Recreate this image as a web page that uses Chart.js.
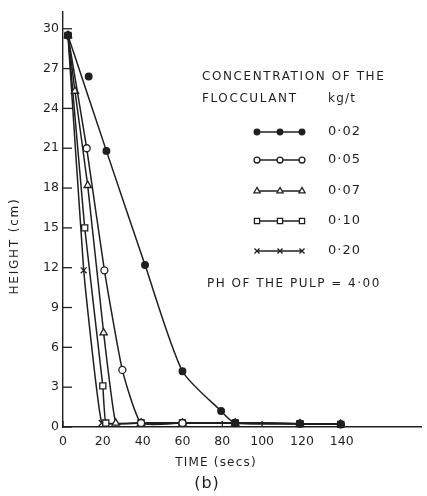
<!DOCTYPE html>
<html>
<head>
<meta charset="utf-8">
<script src="https://cdn.jsdelivr.net/npm/chart.js@4/dist/chart.umd.min.js"></script>
<style>
  html, body { margin: 0; padding: 0; background: #fff; }
  #wrap { width: 427px; height: 496px; position: relative; }
</style>
</head>
<body>
<div id="wrap"><canvas id="chart" width="427" height="496"></canvas></div>
<script>
  // values (time in secs, height in cm)
  const concLabels = ['0·02', '0·05', '0·07', '0·10', '0·20'];
  const xTicks = [0, 20, 40, 60, 80, 100, 120, 140];
  const yTicks = [0, 3, 6, 9, 12, 15, 18, 21, 24, 27, 30];

  const time002 = [2.5, 21.8, 41.2, 60, 79.4, 86.5, 119, 139.5];
  const height002 = [29.5, 20.8, 12.2, 4.2, 1.2, 0.3, 0.25, 0.2];
  // the 10 s reading of 0·02 sits off the drawn curve
  const time002Off = [12.9];
  const height002Off = [26.4];
  const time005 = [2.5, 11.9, 20.8, 29.8, 39.2, 60, 86.5, 119, 139.5];
  const height005 = [29.5, 21.0, 11.8, 4.3, 0.3, 0.3, 0.3, 0.25, 0.2];
  const time007 = [2.5, 6, 12.4, 20.4, 26.5, 39.2, 60, 86.5, 119, 139.5];
  const height007 = [29.5, 25.3, 18.2, 7.1, 0.3, 0.3, 0.3, 0.3, 0.25, 0.2];
  const time010 = [2.5, 10.9, 20.0, 21.5, 39.2, 60, 86.5, 119, 139.5];
  const height010 = [29.5, 15.0, 3.1, 0.3, 0.3, 0.3, 0.3, 0.25, 0.2];
  const time020 = [2.5, 10.4, 19.5, 39.2, 60, 86.5, 119, 139.5];
  const height020 = [29.5, 11.8, 0.3, 0.3, 0.3, 0.3, 0.25, 0.2];

  const ink = '#1f1f1f';
  const font = 'DejaVu Sans';

  function pts(xs, ys) {
    return xs.map((x, i) => ({ x, y: ys[i] }));
  }

  function series(label, data, style, fill, radius, tension) {
    return {
      label, data,
      borderColor: ink, borderWidth: 1.5,
      pointStyle: style, pointRadius: radius, pointBorderWidth: 1.3,
      pointBorderColor: ink, pointBackgroundColor: fill,
      tension, fill: false, clip: 3
    };
  }

  const datasets = [
    series(concLabels[0], pts(time002, height002), 'circle', ink, 3.3, 0.22),
    series(concLabels[1], pts(time005, height005), 'circle', '#fff', 3.5, 0.15),
    series(concLabels[2], pts(time007, height007), 'triangle', '#fff', 4.2, 0.08),
    series(concLabels[3], pts(time010, height010), 'rect', '#fff', 4.3, 0.06),
    series(concLabels[4], pts(time020, height020), 'crossRot', '#fff', 4.2, 0.08),
    Object.assign(series('', pts(time002Off, height002Off), 'circle', ink, 3.3, 0), { showLine: false })
  ];

  function spacedText(ctx, text, x, y, spacing, align) {
    ctx.save();
    ctx.letterSpacing = spacing + 'px';
    ctx.textAlign = align || 'left';
    ctx.fillText(text, x, y);
    ctx.restore();
  }

  const decorations = {
    id: 'decorations',
    beforeDatasetsDraw(chart) {
      const { ctx, chartArea, scales } = chart;
      ctx.save();
      ctx.strokeStyle = ink;
      ctx.lineWidth = 1.3;
      yTicks.forEach((v) => {
        const y = scales.y.getPixelForValue(v);
        ctx.beginPath();
        ctx.moveTo(chartArea.left, y);
        ctx.lineTo(chartArea.left + 9, y);
        ctx.stroke();
      });
      xTicks.forEach((v) => {
        const x = scales.x.getPixelForValue(v);
        ctx.beginPath();
        ctx.moveTo(x, chartArea.bottom);
        ctx.lineTo(x, chartArea.bottom - 6);
        ctx.stroke();
      });
      ctx.restore();
    },
    afterDraw(chart) {
      const { ctx } = chart;
      ctx.save();
      ctx.fillStyle = ink;
      ctx.textBaseline = 'middle';

      // legend block
      ctx.font = '12px ' + font;
      spacedText(ctx, 'CONCENTRATION OF THE', 202, 77, 1.6);
      spacedText(ctx, 'FLOCCULANT', 202, 99, 1.6);
      spacedText(ctx, 'kg/t', 328, 99, 1.2);
      const rows = [132, 160, 191, 221, 251];
      chart.data.datasets.slice(0, concLabels.length).forEach((ds, i) => {
        const y = rows[i];
        ctx.strokeStyle = ink;
        ctx.lineWidth = 1.5;
        ctx.beginPath();
        ctx.moveTo(257, y);
        ctx.lineTo(302, y);
        ctx.stroke();
        [257, 280, 302].forEach((x) => {
          ctx.fillStyle = ds.pointBackgroundColor;
          ctx.strokeStyle = ink;
          ctx.lineWidth = ds.pointBorderWidth;
          Chart.helpers.drawPoint(ctx, {
            pointStyle: ds.pointStyle, radius: ds.pointRadius * 0.85, rotation: 0, borderWidth: ds.pointBorderWidth
          }, x, y);
        });
        ctx.fillStyle = ink;
        ctx.font = '13px ' + font;
        spacedText(ctx, ds.label, 328, y, 1);
      });
      ctx.font = '12px ' + font;
      spacedText(ctx, 'PH OF THE PULP = 4·00', 207, 284, 1.5);

      // axis titles
      spacedText(ctx, 'TIME (secs)', 216, 463, 1.2, 'center');
      ctx.font = '16px ' + font;
      spacedText(ctx, '(b)', 207, 484, 1, 'center');
      ctx.font = '12px ' + font;
      ctx.translate(15, 246);
      ctx.rotate(-Math.PI / 2);
      spacedText(ctx, 'HEIGHT (cm)', 0, 0, 1.8, 'center');
      ctx.restore();
    }
  };

  new Chart(document.getElementById('chart'), {
    type: 'line',
    data: { datasets },
    plugins: [decorations],
    options: {
      responsive: false,
      animation: false,
      layout: { padding: { top: 8, right: 2, bottom: 25, left: 0 } },
      plugins: { legend: { display: false }, tooltip: { enabled: false } },
      scales: {
        x: {
          type: 'linear', min: 0, max: 180,
          afterBuildTicks: (scale) => { scale.ticks = xTicks.map((value) => ({ value })); },
          afterFit: (scale) => { scale.height = 44; },
          grid: { display: false, drawTicks: false },
          border: { display: true, color: ink, width: 1.4 },
          ticks: { color: ink, padding: 7, maxRotation: 0, font: { family: font, size: 12.5 } }
        },
        y: {
          type: 'linear', min: 0, max: 31.3,
          afterBuildTicks: (scale) => { scale.ticks = yTicks.map((value) => ({ value })); },
          afterFit: (scale) => { scale.width = 63; },
          grid: { display: false, drawTicks: false },
          border: { display: true, color: ink, width: 1.4 },
          ticks: { color: ink, padding: 4, font: { family: font, size: 12.5 } }
        }
      }
    }
  });
</script>
</body>
</html>
